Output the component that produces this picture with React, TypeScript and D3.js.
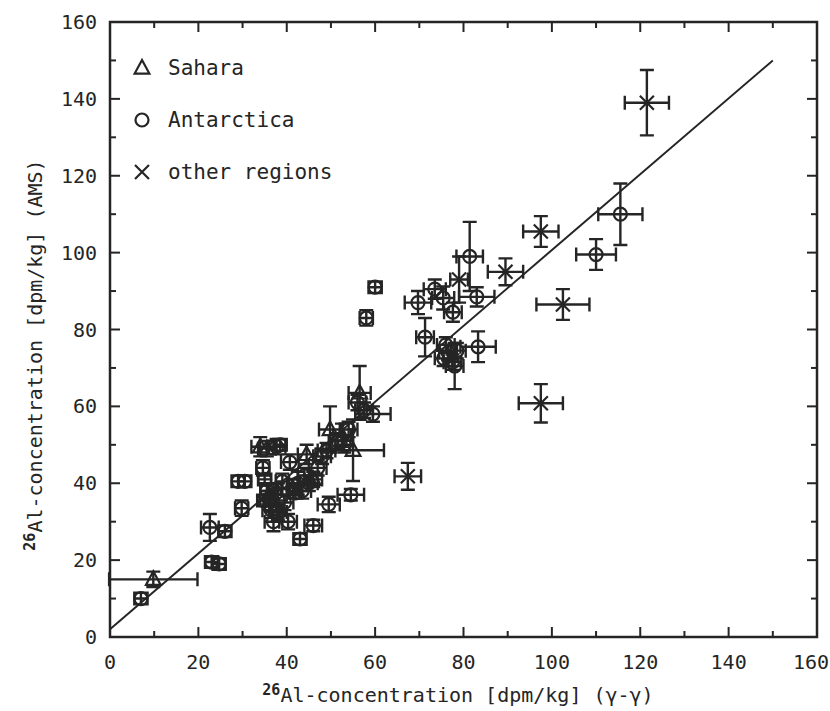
import React, { useEffect, useRef } from 'react';
import * as d3 from 'd3';

// [x (gamma-gamma), y (AMS), x error, y error]
const sahara: number[][] = [
  [9.8, 15, 10, 2], [34, 49.5, 2, 2.5], [35.5, 49, 2, 2], [49.8, 54, 2.5, 6],
  [55, 48.6, 7, 8], [56.5, 63.5, 2.5, 7], [52.5, 52.5, 2, 3], [44.5, 47.5, 2, 2.5],
  [38, 37, 2, 3], [46, 41, 2, 2], [36.5, 34.5, 1.5, 2],
];

const antarctica: number[][] = [
  [7, 10, 1.5, 1.5], [22.6, 28.5, 2, 3.5], [26, 27.5, 1.5, 1.5], [23, 19.5, 1.5, 1.5],
  [24.7, 19, 1.5, 1.5], [29, 40.5, 1.5, 1.5], [30.5, 40.5, 1.5, 1.5], [29.8, 33.5, 1.5, 2],
  [34.6, 44, 1.5, 2], [35, 41, 1.5, 1.5], [37.7, 49.5, 2, 2], [38.5, 50, 1.5, 1.5],
  [36, 36, 2, 2], [36.5, 33, 2, 2], [37, 30, 2, 2.5], [35.5, 38, 1.5, 2],
  [38, 32.5, 2, 2], [39.5, 35, 2, 2], [40.3, 30, 2, 2], [43, 25.5, 1.5, 1.5],
  [46, 29, 2, 1.5], [49.5, 34.5, 2.5, 2], [54.5, 37, 3, 1.5], [40.7, 45.5, 2, 2],
  [42.5, 40, 2, 3], [43.5, 38, 2, 2], [45, 40, 2, 2], [44, 42, 1.5, 2],
  [47, 44, 2, 2], [48, 47, 2, 2], [49, 48.5, 2, 2], [51.5, 51, 2, 2],
  [53, 50, 2, 2], [54, 54, 2, 2], [41.5, 39.5, 1.5, 1.5], [57.5, 59, 2, 2],
  [59.5, 58, 4, 2], [56, 61, 2, 2], [58, 83, 1.5, 2], [60, 91, 1.5, 1.5],
  [69.7, 87, 3, 3], [71.3, 78, 2, 5], [73.5, 90.5, 2.5, 2.5], [75.4, 88.2, 2.5, 3],
  [77.6, 84.5, 2, 2.5], [81.4, 99, 3, 9], [83, 88.5, 4, 2.5], [83.3, 75.5, 4, 4],
  [75.5, 72.5, 2, 2], [76.5, 74, 2, 2], [77.5, 71.5, 2, 2], [78, 70.5, 2, 6],
  [76, 76, 2, 2], [78.5, 74.5, 2, 2], [110, 99.5, 4.5, 4], [115.5, 110, 5, 8],
  [37.5, 38.5, 1.5, 1.5], [39, 40.5, 1.5, 2], [34.8, 35.5, 1.5, 1.5], [42, 37.5, 1.5, 1.5],
];

const otherRegions: number[][] = [
  [121.5, 139, 5, 8.5], [97.5, 105.5, 4, 4], [102.5, 86.5, 6, 4], [97.5, 60.8, 5, 5],
  [89.5, 95, 4, 3.5], [79, 93, 2, 6], [67.4, 41.8, 3, 3.5],
];

const fitLine = [[0, 2], [150, 150]];
const tickValues = [0, 20, 40, 60, 80, 100, 120, 140, 160];
const minorTicks = [10, 30, 50, 70, 90, 110, 130, 150];
const legendItems = [
  { label: 'Sahara', kind: 'tri' },
  { label: 'Antarctica', kind: 'circ' },
  { label: 'other regions', kind: 'x' },
];

const INK = '#252525';
const FONT = '"DejaVu Sans Mono", "Liberation Mono", monospace';

export default function App() {
  const svgRef = useRef<SVGSVGElement>(null);

  useEffect(() => {
    if (!svgRef.current) return;
    const svg = d3.select(svgRef.current);
    svg.selectAll('*').remove();

    const left = 110, right = 817, top = 22, bottom = 637;
    const x = d3.scaleLinear().domain([0, 160]).range([left, right]);
    const y = d3.scaleLinear().domain([0, 160]).range([bottom, top]);

    const g = svg.append('g');

    // frame
    g.append('rect')
      .attr('x', left).attr('y', top)
      .attr('width', right - left).attr('height', bottom - top)
      .attr('fill', 'none').attr('stroke', INK).attr('stroke-width', 2.5);

    // ticks on all four sides, pointing inward
    const tickG = g.append('g').attr('stroke', INK).attr('stroke-width', 2);
    const addTicks = (vals: number[], len: number) => {
      vals.forEach(v => {
        tickG.append('line').attr('x1', x(v)).attr('x2', x(v)).attr('y1', bottom).attr('y2', bottom - len);
        tickG.append('line').attr('x1', x(v)).attr('x2', x(v)).attr('y1', top).attr('y2', top + len);
        tickG.append('line').attr('y1', y(v)).attr('y2', y(v)).attr('x1', left).attr('x2', left + len);
        tickG.append('line').attr('y1', y(v)).attr('y2', y(v)).attr('x1', right).attr('x2', right - len);
      });
    };
    addTicks(tickValues.slice(1, -1), 10);
    addTicks(minorTicks, 6);

    // tick labels
    g.append('g').selectAll('text').data(tickValues).join('text')
      .attr('x', d => (d === 160 ? 829 : x(d))).attr('y', bottom + 32)
      .attr('text-anchor', d => (d === 160 ? 'end' : 'middle'))
      .style('font', `20px ${FONT}`).attr('fill', INK)
      .text(d => d);
    g.append('g').selectAll('text').data(tickValues).join('text')
      .attr('x', 97).attr('y', d => y(d) + 7)
      .attr('text-anchor', 'end')
      .style('font', `20px ${FONT}`).attr('fill', INK)
      .text(d => d);

    // axis titles
    const xt = g.append('text')
      .attr('x', 458).attr('y', 702).attr('text-anchor', 'middle')
      .style('font', `20px ${FONT}`).attr('fill', INK);
    xt.append('tspan').attr('dy', -7).style('font-size', '15px').style('font-weight', 'bold').text('26');
    xt.append('tspan').attr('dy', 7).text('Al-concentration [dpm/kg] (γ-γ)');

    const yt = g.append('text')
      .attr('transform', `translate(42,355) rotate(-90)`)
      .attr('text-anchor', 'middle')
      .style('font', `20px ${FONT}`).attr('fill', INK);
    yt.append('tspan').attr('dy', -7).style('font-size', '15px').style('font-weight', 'bold').text('26');
    yt.append('tspan').attr('dy', 7).text('Al-concentration [dpm/kg] (AMS)');

    // regression line
    g.append('line')
      .attr('x1', x(fitLine[0][0])).attr('y1', y(fitLine[0][1]))
      .attr('x2', x(fitLine[1][0])).attr('y2', y(fitLine[1][1]))
      .attr('stroke', INK).attr('stroke-width', 2);

    const cap = 7;
    const drawMarker = (sel: any, kind: string) => {
      if (kind === 'tri') {
        const s = 8;
        sel.append('path')
          .attr('d', `M0,${-s}L${s * 0.92},${s * 0.7}L${-s * 0.92},${s * 0.7}Z`)
          .attr('fill', 'none').attr('stroke', INK).attr('stroke-width', 2.2);
      } else if (kind === 'circ') {
        sel.append('circle').attr('r', 6.5)
          .attr('fill', 'none').attr('stroke', INK).attr('stroke-width', 2.2);
      } else {
        const s = 7;
        sel.append('path').attr('d', `M${-s},${-s}L${s},${s}M${-s},${s}L${s},${-s}`)
          .attr('fill', 'none').attr('stroke', INK).attr('stroke-width', 2.2);
      }
    };

    const drawSeries = (data: number[][], kind: string) => {
      const pts = g.append('g').selectAll('g').data(data).join('g')
        .attr('transform', d => `translate(${x(d[0])},${y(d[1])})`);
      pts.each(function (d) {
        const p = d3.select(this as SVGGElement);
        const dx0 = x(d[0] - d[2]) - x(d[0]);
        const dx1 = x(d[0] + d[2]) - x(d[0]);
        const dy0 = y(d[1] + d[3]) - y(d[1]);
        const dy1 = y(d[1] - d[3]) - y(d[1]);
        const path = `M${dx0},0H${dx1}M${dx0},${-cap}V${cap}M${dx1},${-cap}V${cap}` +
          `M0,${dy0}V${dy1}M${-cap},${dy0}H${cap}M${-cap},${dy1}H${cap}`;
        p.append('path').attr('d', path).attr('fill', 'none')
          .attr('stroke', INK).attr('stroke-width', 2.4);
        drawMarker(p, kind);
      });
    };

    drawSeries(antarctica, 'circ');
    drawSeries(sahara, 'tri');
    drawSeries(otherRegions, 'x');

    // legend
    const leg = g.append('g');
    legendItems.forEach((item, i) => {
      const row = leg.append('g').attr('transform', `translate(142,${68 + i * 52})`);
      drawMarker(row, item.kind);
      row.append('text').attr('x', 26).attr('y', 7)
        .style('font', `21px ${FONT}`).attr('fill', INK)
        .text(item.label);
    });
  }, []);

  return (
    <svg ref={svgRef} width={830} height={711}
      style={{ position: 'absolute', left: 0, top: 0, background: '#fff' }} />
  );
}
